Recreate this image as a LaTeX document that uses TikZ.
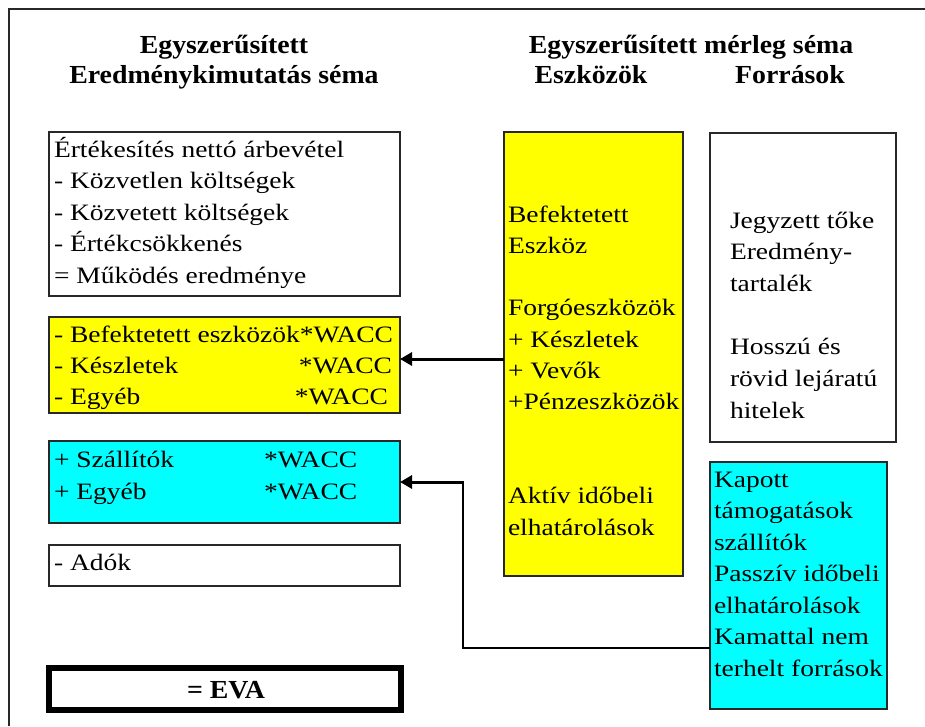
\documentclass[tikz,border=0pt]{standalone}
\usepackage{fontspec}
\setmainfont{Liberation Serif}
\newfontfamily\bodyf[FakeStretch=1.17]{Liberation Serif}
\newfontfamily\ttlf[FakeStretch=1.07]{Liberation Serif}
\usetikzlibrary{arrows.meta}
\definecolor{ylw}{RGB}{255,255,0}
\definecolor{cyn}{RGB}{0,255,255}
\definecolor{frm}{RGB}{40,40,40}
\tikzset{
  box/.style={draw=frm, line width=1.3pt, inner sep=0pt, outer sep=0pt},
  txt/.style={inner sep=0pt, outer sep=0pt, font=\bodyf\fontsize{23.5}{28}\selectfont, anchor=base west},
  ttl/.style={inner sep=0pt, outer sep=0pt, font=\ttlf\bfseries\fontsize{26}{31}\selectfont, anchor=base},
  conn/.style={draw=black, line width=1.5pt},
  thickconn/.style={draw=black, line width=3pt},
  tip/.style={-{Triangle[length=12pt,width=13pt]}},
}
\newcommand\mkbox[6]{\node[box,#6,minimum width={#4-#2},minimum height={#5-#3}] (#1) at ({(#2+#4)/2},{(#3+#5)/2}) {};}
\begin{document}
\begin{tikzpicture}[x=1pt,y=-1pt]
\useasboundingbox[fill=white] (0,0) rectangle (925,726);
% outer frame (cropped)
\coordinate (fa) at (9,726);
\coordinate (fb) at (9,9);
\coordinate (fc) at (925,9);
\draw[draw=frm, line width=2pt] (fa) -- (fb) -- (fc);

% titles
\node[ttl] (t1) at (224,53) {Egyszerűsített};
\node[ttl] (t2) at (224,83) {Eredménykimutatás séma};
\node[ttl] (t3) at (691,53) {Egyszerűsített mérleg séma};
\node[ttl] (t4) at (591,83) {Eszközök};
\node[ttl] (t5) at (790,83) {Források};

% boxes
\mkbox{ert}{49}{132}{400}{296}{fill=white}
\mkbox{wacc}{49}{317}{400}{413}{fill=ylw}
\mkbox{szal}{49}{441}{400}{523}{fill=cyn}
\mkbox{adok}{49}{545}{400}{586}{fill=white}
\mkbox{eszk}{504}{132}{683}{576}{fill=ylw}
\mkbox{forr}{710}{133}{896}{442}{fill=white}
\mkbox{kap}{710}{462}{887}{709}{fill=cyn}
\node[box, line width=6pt, draw=black, fill=white, minimum width=352, minimum height=42] (eva) at (225,689) {};

% text of income statement
\foreach \i/\t in {0/Értékesítés nettó árbevétel, 1/- Közvetlen költségek, 2/- Közvetett költségek, 3/- Értékcsökkenés, 4/= Működés eredménye}
  \node[txt] (e\i) at (54,157+\i*31.5) {\t};
\foreach \i/\t in {0/- Befektetett eszközök*WACC, 1/- Készletek, 2/- Egyéb}
  \node[txt] (w\i) at (54,342+\i*31) {\t};
\node[txt, anchor=base east] (w1b) at (392,373) {*WACC};
\node[txt, anchor=base east] (w2b) at (388,404) {*WACC};
\foreach \i/\t in {0/+ Szállítók, 1/+ Egyéb}
  \node[txt] (s\i) at (54,467+\i*32) {\t};
\foreach \i in {0,1}
  \node[txt] (sw\i) at (264,467+\i*32) {*WACC};
\node[txt] (ad) at (54,570) {- Adók};
\node[ttl] (evat) at (226,698) {= EVA};

% assets
\foreach \i/\t in {0/Befektetett, 1/Eszköz, 3/Forgóeszközök, 4/+ Készletek, 5/+ Vevők, 6/+Pénzeszközök, 9/Aktív időbeli, 10/elhatárolások}
  \node[txt] (a\i) at (508,222+\i*31.3) {\t};
% liabilities
\foreach \i/\t in {0/Jegyzett tőke, 1/Eredmény-, 2/tartalék, 4/Hosszú és, 5/rövid lejáratú, 6/hitelek}
  \node[txt] (f\i) at (730,228+\i*31.7) {\t};
\foreach \i/\t in {0/Kapott, 1/támogatások, 2/szállítók, 3/Passzív időbeli, 4/elhatárolások, 5/Kamattal nem, 6/terhelt források}
  \node[txt] (k\i) at (714,487+\i*31.5) {\t};

% connectors
\coordinate (ar1) at (0,359);
\draw[thickconn, tip] (eszk.west |- ar1) -- (wacc.east |- ar1);
\coordinate (b1) at (463,648);
\coordinate (b2) at (463,482);
\draw[conn] (kap.west |- b1) -- (b1) -- (b2);
\draw[thickconn, tip] ([xshift=0.75pt]b2) -- (szal.east |- b2);
\end{tikzpicture}
\end{document}
